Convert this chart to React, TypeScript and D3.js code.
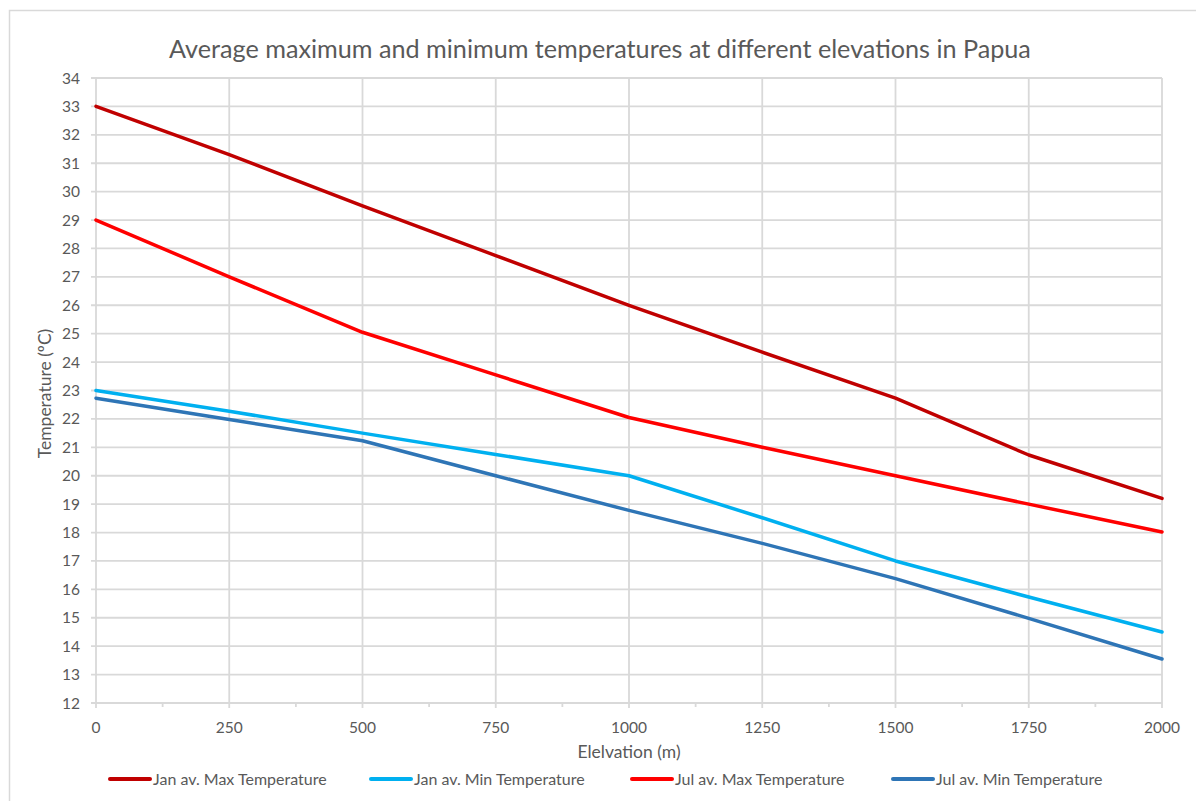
import * as d3 from "d3";
import { useEffect, useRef } from "react";

const elevations = [0, 250, 500, 750, 1000, 1250, 1500, 1750, 2000];
const janMax = [33, 31.3, 29.5, 27.75, 26, 24.35, 22.73, 20.73, 19.2];
const janMin = [23, 22.27, 21.5, 20.75, 20, 18.52, 17, 15.73, 14.5];
const julMax = [29, 27, 25.05, 23.55, 22.05, 21, 20, 19, 18.02];
const julMin = [22.73, 21.98, 21.23, 20, 18.78, 17.62, 16.38, 14.98, 13.55];

const seriesNames = [
  "Jan av. Max Temperature",
  "Jan av. Min Temperature",
  "Jul av. Max Temperature",
  "Jul av. Min Temperature"
];
const seriesColors = ["#C00000", "#00B0F0", "#FF0000", "#2E75B6"];
const seriesValues = [janMax, janMin, julMax, julMin];

const yTicks = d3.range(12, 35);
const xTicks = [0, 250, 500, 750, 1000, 1250, 1500, 1750, 2000];

const title = "Average maximum and minimum temperatures at different elevations in Papua";
const xTitle = "Elelvation (m)";
const yTitle = "Temperature (ºC)";

export default function App() {
  const ref = useRef<SVGSVGElement | null>(null);

  useEffect(() => {
    if (!ref.current) return;
    const width = 1196;
    const height = 801;
    const margin = { left: 96, right: 1162, top: 78, bottom: 703 };
    const font = "Lato, 'Noto Sans', sans-serif";
    const textColor = "#595959";
    const gridColor = "#d9d9d9";

    const svg = d3.select(ref.current);
    svg.selectAll("*").remove();
    svg.attr("width", width).attr("height", height);

    svg
      .append("rect")
      .attr("x", 9.5)
      .attr("y", 10.5)
      .attr("width", 1200)
      .attr("height", 800)
      .attr("fill", "#fff")
      .attr("stroke", gridColor)
      .attr("stroke-width", 1.5);

    const x = d3.scaleLinear().domain([0, 2000]).range([margin.left, margin.right]);
    const y = d3.scaleLinear().domain([12, 34]).range([margin.bottom, margin.top]);

    // grid
    const grid = svg.append("g");
    yTicks.forEach((t) => {
      grid
        .append("line")
        .attr("x1", margin.left - 5)
        .attr("x2", margin.right)
        .attr("y1", y(t))
        .attr("y2", y(t))
        .attr("stroke", gridColor)
        .attr("stroke-width", 1.8);
    });
    xTicks.forEach((t) => {
      grid
        .append("line")
        .attr("x1", x(t))
        .attr("x2", x(t))
        .attr("y1", margin.top)
        .attr("y2", margin.bottom + 5)
        .attr("stroke", gridColor)
        .attr("stroke-width", 1.8);
    });
    d3.range(125, 2000, 250).forEach((t) => {
      grid
        .append("line")
        .attr("x1", x(t))
        .attr("x2", x(t))
        .attr("y1", margin.bottom)
        .attr("y2", margin.bottom + 4)
        .attr("stroke", gridColor)
        .attr("stroke-width", 1.8);
    });

    // tick labels
    svg
      .append("g")
      .selectAll("text")
      .data(yTicks)
      .join("text")
      .attr("x", 80)
      .attr("y", (d) => y(d) + 5.5)
      .attr("text-anchor", "end")
      .attr("font-family", font)
      .attr("font-size", 15.5)
      .attr("fill", textColor)
      .text((d) => d);

    svg
      .append("g")
      .selectAll("text")
      .data(xTicks)
      .join("text")
      .attr("x", (d) => x(d))
      .attr("y", 733)
      .attr("text-anchor", "middle")
      .attr("font-family", font)
      .attr("font-size", 15.5)
      .attr("fill", textColor)
      .text((d) => d);

    // titles
    svg
      .append("text")
      .attr("x", 600)
      .attr("y", 58)
      .attr("text-anchor", "middle")
      .attr("font-family", font)
      .attr("font-size", 25.2)
      .attr("fill", textColor)
      .text(title);

    svg
      .append("text")
      .attr("x", (margin.left + margin.right) / 2)
      .attr("y", 758)
      .attr("text-anchor", "middle")
      .attr("font-family", font)
      .attr("font-size", 17.5)
      .attr("fill", textColor)
      .text(xTitle);

    svg
      .append("text")
      .attr("transform", `translate(51, ${(margin.top + margin.bottom) / 2 + 3}) rotate(-90)`)
      .attr("text-anchor", "middle")
      .attr("font-family", font)
      .attr("font-size", 17.5)
      .attr("fill", textColor)
      .text(yTitle);

    // lines
    const line = d3
      .line<number>()
      .x((_, i) => x(elevations[i]))
      .y((d) => y(d));

    seriesValues.forEach((vals, i) => {
      svg
        .append("path")
        .attr("d", line(vals))
        .attr("fill", "none")
        .attr("stroke", seriesColors[i])
        .attr("stroke-width", 3.5)
        .attr("stroke-linejoin", "round")
        .attr("stroke-linecap", "round");
    });

    // legend
    const legend = svg.append("g");
    seriesNames.forEach((name, i) => {
      const x0 = 110 + i * 261;
      legend
        .append("line")
        .attr("x1", x0)
        .attr("x2", x0 + 40)
        .attr("y1", 779)
        .attr("y2", 779)
        .attr("stroke", seriesColors[i])
        .attr("stroke-width", 4)
        .attr("stroke-linecap", "round");
      legend
        .append("text")
        .attr("x", x0 + 43)
        .attr("y", 784.5)
        .attr("font-family", font)
        .attr("font-size", 16)
        .attr("fill", textColor)
        .text(name);
    });
  }, []);

  return <svg ref={ref} style={{ position: "absolute", left: 0, top: 0 }} />;
}
